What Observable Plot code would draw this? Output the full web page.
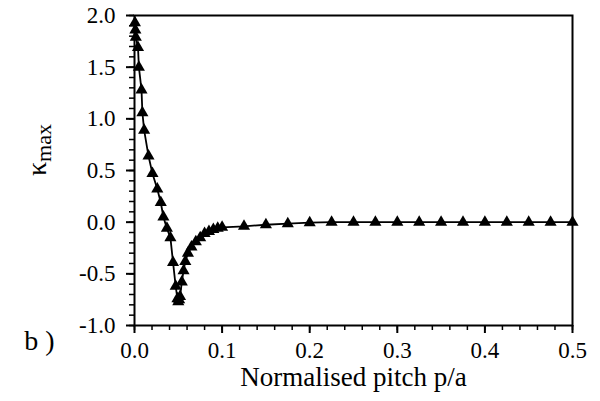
<!DOCTYPE html>
<html>
<head>
<meta charset="utf-8">
<script src="https://cdn.jsdelivr.net/npm/d3@7"></script>
<script src="https://cdn.jsdelivr.net/npm/@observablehq/plot@0.6"></script>
<style>
  html, body { margin: 0; padding: 0; background: #fff; }
  svg { display: block; }
  svg text { font-family: "Liberation Serif", "Times New Roman", serif !important; }
</style>
</head>
<body>
<div id="chart"></div>
<script>
const pitch = [0.0005,0.001,0.0015,0.004,0.005,0.008,0.009,0.011,0.016,0.0205,0.026,0.030,0.033,0.037,0.041,0.044,0.047,0.049,0.050,0.051,
  0.052,0.054,0.056,0.058,0.061,0.065,0.070,0.075,0.080,0.085,0.090,0.095,0.100,0.125,0.150,0.175,
  0.200,0.225,0.250,0.275,0.300,0.325,0.350,0.375,0.400,0.425,0.450,0.475,0.500];
const kappa = [1.93,1.86,1.79,1.69,1.50,1.28,1.06,0.89,0.64,0.47,0.32,0.19,0.05,-0.06,-0.15,-0.39,-0.62,-0.74,-0.77,-0.75,
  -0.72,-0.58,-0.47,-0.38,-0.30,-0.24,-0.19,-0.15,-0.11,-0.09,-0.07,-0.06,-0.05,-0.04,-0.025,-0.015,
  -0.005,0,0,0,0,0,0,0,0,0,0,0,0];
const xMajor = [0, 0.1, 0.2, 0.3, 0.4, 0.5];
const xMinor = d3.range(0, 0.5001, 0.02);
const yMajor = [-1, -0.5, 0, 0.5, 1, 1.5, 2];
const yMinor = d3.range(-1, 2.0001, 0.1);

const data = pitch.map((p, i) => ({p, k: kappa[i]}));
const font = '"Liberation Serif", "Times New Roman", serif';

const svg = Plot.plot({
  width: 600,
  height: 401,
  marginLeft: 134,
  marginRight: 28,
  marginTop: 15,
  marginBottom: 76,
  style: {fontFamily: font, background: "#fff", color: "#000"},
  x: {domain: [0, 0.5]},
  y: {domain: [-1, 2]},
  marks: [
    Plot.axisX(xMinor, {tickSize: 5, tickFormat: null, text: null, strokeWidth: 1.5, label: null}),
    Plot.axisX(xMajor, {tickSize: 8, tickPadding: 8, strokeWidth: 2, fontSize: 23, fontFamily: font, tickFormat: d => d.toFixed(1), label: null}),
    Plot.axisY(yMinor, {tickSize: 5, tickFormat: null, text: null, strokeWidth: 1.5, label: null}),
    Plot.axisY(yMajor, {tickSize: 8, tickPadding: 11, strokeWidth: 2, fontSize: 23, fontFamily: font, tickFormat: d => d.toFixed(1), label: null}),
    Plot.frame({stroke: "#000", strokeWidth: 2}),
    Plot.line(data, {x: "p", y: "k", stroke: "#000", strokeWidth: 1.8}),
    Plot.dot(data, {x: "p", y: "k", symbol: "triangle", r: 4.5, fill: "#000", stroke: "none"}),
    Plot.text(["Normalised pitch p/a"], {frameAnchor: "bottom", dy: 60, fontSize: 27, fontFamily: font, fill: "#000"}),
    Plot.text(["b\u00a0)"], {frameAnchor: "bottom-left", dx: -95, dy: 24, fontSize: 28, fontFamily: font, fill: "#000", textAnchor: "middle"})
  ]
});

const lab = d3.select(svg).append("text")
  .attr("transform", "translate(46,150) rotate(-90)")
  .attr("text-anchor", "middle")
  .attr("font-family", font)
  .attr("font-size", 28)
  .attr("fill", "#000");
lab.append("tspan").text("κ");
lab.append("tspan").attr("font-size", 22).attr("dy", 5).text("max");

document.getElementById("chart").appendChild(svg);
</script>
</body>
</html>
